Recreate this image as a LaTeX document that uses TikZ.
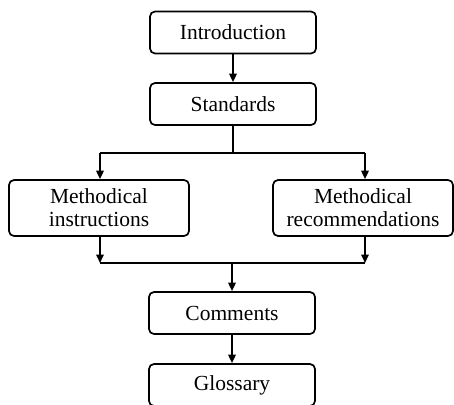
\documentclass[tikz,border=0pt]{standalone}
\usepackage{fontspec}
\setmainfont{Liberation Serif}
\usetikzlibrary{arrows.meta}
\begin{document}
\begin{tikzpicture}[x=1pt,y=-1pt,line width=1.7pt,
    box/.style={draw,rounded corners=5pt,align=center,inner sep=0pt,
      font=\fontsize{21.5}{23}\selectfont},
    wide/.style={box,minimum width=166pt,minimum height=42pt},
    tall/.style={box,minimum width=180pt,minimum height=56pt},
    link/.style={-{Triangle[length=8.5pt,width=7.5pt]}}]
  \useasboundingbox (0,0) rectangle (454,404);

  \node[wide] (intro) at (233,32.5) {Introduction};
  \node[wide] (stand) at (233,104)  {Standards};
  \node[tall] (instr) at (99,208)   {Methodical\\instructions};
  \node[tall] (recom) at (363,208)  {Methodical\\recommendations};
  \node[wide] (comm)  at (232,313)  {Comments};
  \node[wide] (gloss) at (232,385)  {Glossary};

  \coordinate (split)  at (233,153);
  \coordinate (splitL) at (100,153);
  \coordinate (splitR) at (365,153);
  \coordinate (merge)  at (232,263);
  \coordinate (mergeL) at (100,263);
  \coordinate (mergeR) at (365,263);

  \draw[link] (intro) -- (stand);
  \draw (stand) -- (split);
  \draw (splitL) -- (splitR);
  \draw[link] (splitL) -- (splitL |- instr.north);
  \draw[link] (splitR) -- (splitR |- recom.north);
  \draw[link] (mergeL |- instr.south) -- (mergeL);
  \draw[link] (mergeR |- recom.south) -- (mergeR);
  \draw (mergeL) -- (mergeR);
  \draw[link] (merge) -- (comm);
  \draw[link] (comm) -- (gloss);
\end{tikzpicture}
\end{document}
